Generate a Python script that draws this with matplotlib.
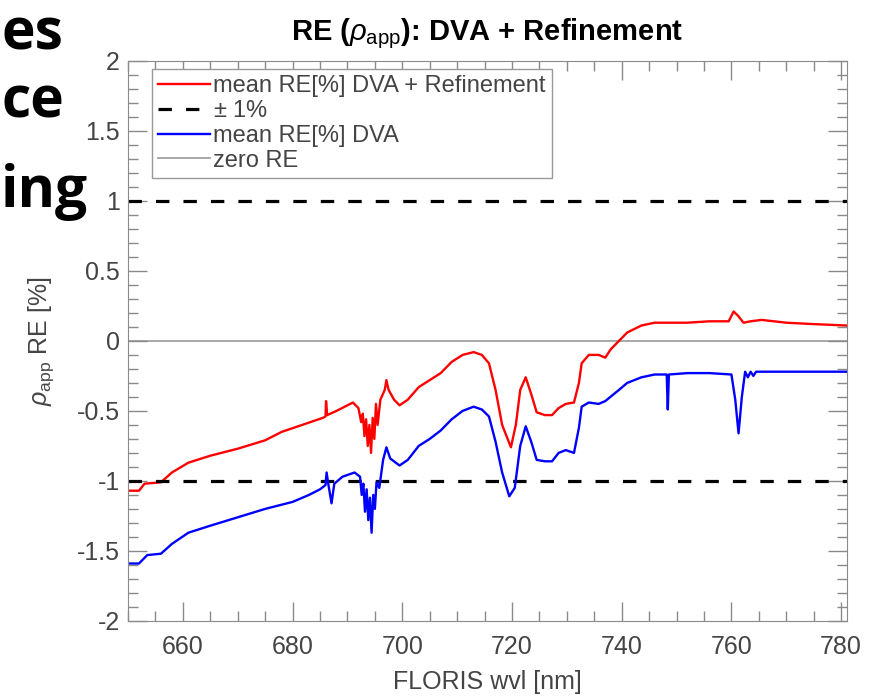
# relative error of apparent reflectance, DVA vs DVA + refinement

import numpy as np
import matplotlib.pyplot as plt
from matplotlib.ticker import MultipleLocator

plt.rcParams['font.family'] = ['Liberation Sans', 'DejaVu Sans']
plt.rcParams['mathtext.fontset'] = 'custom'
plt.rcParams['mathtext.rm'] = 'Liberation Sans'
plt.rcParams['mathtext.it'] = 'Liberation Sans:italic'
plt.rcParams['mathtext.bf'] = 'Liberation Sans:bold'

# mean RE[%] DVA + Refinement
wvl_ref = [650, 652, 653, 656, 658, 661, 665, 670, 675, 678, 681, 684, 685.5, 686, 686.1,
           686.3, 688, 690, 691, 692, 692.5, 692.8, 693.1, 693.4, 693.7, 694, 694.3, 694.6,
           694.9, 695.2, 695.5, 696, 696.8, 697.1, 697.5, 698.5, 699.5, 701, 703, 705, 707,
           709, 711, 713, 714.5, 715.8, 717, 718.2, 719.8, 720.7, 721.5, 722.5, 723.5, 724.5,
           726, 727.3, 728.5, 729.8, 731.3, 732.2, 732.7, 734, 735.8, 737, 738, 739.5, 741,
           743.6, 746, 748, 752, 756, 759.5, 760.4, 761.2, 762.2, 763.5, 765.5, 770, 775, 781]
re_ref = [-1.07, -1.07, -1.02, -1.01, -0.94, -0.87, -0.82, -0.77, -0.71, -0.65, -0.61, -0.57,
          -0.55, -0.54, -0.43, -0.53, -0.50, -0.46, -0.44, -0.48, -0.58, -0.52, -0.68, -0.56,
          -0.75, -0.60, -0.80, -0.55, -0.70, -0.45, -0.60, -0.42, -0.35, -0.28, -0.35, -0.42,
          -0.46, -0.42, -0.33, -0.28, -0.23, -0.15, -0.10, -0.08, -0.10, -0.16, -0.35, -0.60,
          -0.76, -0.60, -0.35, -0.26, -0.38, -0.51, -0.53, -0.53, -0.48, -0.45, -0.44, -0.30,
          -0.16, -0.10, -0.10, -0.12, -0.06, 0.0, 0.06, 0.11, 0.13, 0.13, 0.13, 0.14, 0.14,
          0.21, 0.18, 0.13, 0.14, 0.15, 0.13, 0.12, 0.11]

# mean RE[%] DVA
wvl_dva = [650, 652, 653.5, 656, 658, 661, 665, 670, 675, 680, 683, 685, 686, 686.2, 686.5,
           687.1, 687.6, 689.1, 691.3, 692.3, 692.6, 692.9, 693.2, 693.5, 693.8, 694.1, 694.4,
           694.7, 695.0, 695.3, 695.8, 696.5, 697.1, 697.8, 699.5, 701, 703, 705, 707, 709,
           711, 713, 714.5, 715.8, 717, 718.2, 719.5, 720.5, 721.5, 722.5, 723.5, 724.5, 726,
           727.3, 728.5, 729.8, 731.3, 732.2, 732.7, 734, 735.8, 737, 739.5, 741, 743.6, 746,
           748.2, 748.4, 748.6, 752, 756, 760, 760.7, 761.3, 761.9, 762.5, 763, 763.5, 764,
           764.5, 770, 775, 781]
re_dva = [-1.59, -1.59, -1.53, -1.52, -1.45, -1.37, -1.32, -1.26, -1.20, -1.15, -1.10, -1.06,
          -1.03, -0.94, -1.02, -1.16, -1.02, -0.97, -0.94, -0.97, -1.10, -1.02, -1.22, -1.06,
          -1.28, -1.12, -1.37, -1.10, -1.20, -1.01, -1.05, -0.85, -0.76, -0.84, -0.89, -0.85,
          -0.75, -0.70, -0.64, -0.56, -0.50, -0.47, -0.49, -0.54, -0.72, -0.94, -1.11, -1.05,
          -0.75, -0.61, -0.72, -0.85, -0.86, -0.86, -0.80, -0.78, -0.80, -0.62, -0.47, -0.44,
          -0.45, -0.43, -0.35, -0.30, -0.26, -0.24, -0.24, -0.49, -0.24, -0.23, -0.23, -0.24,
          -0.42, -0.66, -0.40, -0.22, -0.26, -0.22, -0.25, -0.22, -0.22, -0.22, -0.22]

bound = 1.0  # +/- 1 % band

# word endings of the slide text cut by the screenshot
slide_words = ['es', 'ce', 'ing']

fig = plt.figure(figsize=(8.71, 7.00), dpi=100)
ax = fig.add_axes([0.147, 0.113, 0.825, 0.800])

ax.plot(wvl_ref, re_ref, color='red', linewidth=1.7, label='mean RE[%] DVA + Refinement')
ax.axhline(bound, color='black', linewidth=2.3, linestyle=(0, (4.2, 4.4)), label=r'$\pm$ 1%')
ax.axhline(-bound, color='black', linewidth=2.3, linestyle=(0, (4.2, 4.4)))
ax.plot(wvl_dva, re_dva, color='blue', linewidth=1.7, label='mean RE[%] DVA')
ax.axhline(0, color='#9a9a9a', linewidth=1.2, label='zero RE', zorder=1)

ax.set_xlim(650, 781)
ax.set_ylim(-2, 2)
ax.set_xticks([660, 680, 700, 720, 740, 760, 780])
ax.set_yticks([-2, -1.5, -1, -0.5, 0, 0.5, 1, 1.5, 2])
ax.set_yticklabels(['-2', '-1.5', '-1', '-0.5', '0', '0.5', '1', '1.5', '2'])
ax.xaxis.set_minor_locator(MultipleLocator(5))
ax.yaxis.set_minor_locator(MultipleLocator(0.1))
ax.tick_params(which='both', direction='in', top=True, right=True, colors='#8a8a8a',
               labelcolor='#444444', labelsize=18)
ax.tick_params(which='major', length=14, width=1)
ax.tick_params(which='minor', length=7, width=1)
ax.tick_params(axis='x', pad=10)
ax.tick_params(axis='y', pad=6)
for s in ax.spines.values():
    s.set_color('#8a8a8a')

ax.set_title(r'RE ($\rho_{\mathrm{app}}$): DVA + Refinement', fontsize=21, fontweight='bold', pad=15)
ax.set_xlabel('FLORIS wvl [nm]', fontsize=18, color='#444444')
ax.set_ylabel(r'$\rho_{\mathrm{app}}$ RE [%]', fontsize=18, color='#444444')
ax.xaxis.set_label_coords(0.5, -0.088)
ax.yaxis.set_label_coords(-0.10, 0.5)

leg = ax.legend(loc='upper left', bbox_to_anchor=(0.033, 0.985), borderaxespad=0,
                fontsize=17, handlelength=2.2, handletextpad=0.15, labelspacing=0.12,
                borderpad=0.25, fancybox=False, framealpha=1, edgecolor='#9a9a9a')
for t in leg.get_texts():
    t.set_color('#444444')

# slide text on the left
for word, base in zip(slide_words, [50, 118, 207]):
    fig.text(1 / 871, 1 - base / 700, word, fontsize=41, fontweight='bold',
             family='Open Sans', ha='left', va='baseline')

fig.savefig('out.png', dpi=100)
